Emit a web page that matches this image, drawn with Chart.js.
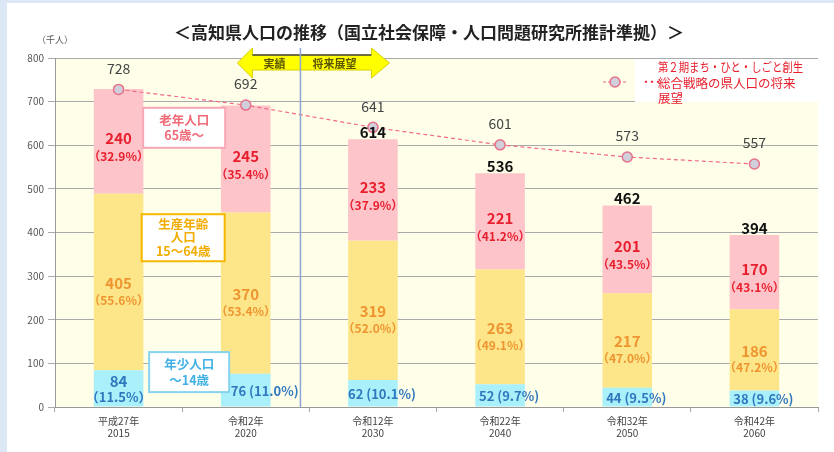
<!DOCTYPE html>
<html>
<head>
<meta charset="utf-8">
<script src="https://cdn.jsdelivr.net/npm/chart.js@4.4.1/dist/chart.umd.min.js"></script>
<style>
  body { margin: 0; background: #dde8f6; }
  canvas { display: block; }
</style>
</head>
<body>
<canvas id="myChart" width="834" height="452"></canvas>
<script>
const FONT = "'Noto Sans CJK JP', 'Noto Sans', sans-serif";

const eras = ["平成27年", "令和2年", "令和12年", "令和22年", "令和32年", "令和42年"];
const years = ["2015", "2020", "2030", "2040", "2050", "2060"];

const young = [84, 76, 62, 52, 44, 38];
const working = [405, 370, 319, 263, 217, 186];
const old = [240, 245, 233, 221, 201, 170];

const youngPct = ["11.5", "11.0", "10.1", "9.7", "9.5", "9.6"];
const workingPct = ["55.6", "53.4", "52.0", "49.1", "47.0", "47.2"];
const oldPct = ["32.9", "35.4", "37.9", "41.2", "43.5", "43.1"];

// 第2期まち・ひと・しごと創生総合戦略の将来展望
const outlook = [728, 692, 641, 601, 573, 557];
const showTotal = [false, false, true, true, true, true];

const labels = eras.map((e, i) => [e, years[i]]);

function txt(ctx, s, x, y, size, color, weight, align) {
  ctx.font = (weight || "normal") + " " + size + "px " + FONT;
  ctx.fillStyle = color;
  ctx.textAlign = align || "center";
  ctx.textBaseline = "middle";
  ctx.fillText(s, x, y);
}

function labelBox(ctx, cx, cy, w, h, border, lines, color) {
  ctx.fillStyle = "#fff";
  ctx.fillRect(cx - w / 2, cy - h / 2, w, h);
  ctx.strokeStyle = border;
  ctx.lineWidth = 2;
  ctx.strokeRect(cx - w / 2, cy - h / 2, w, h);
  const step = h / (lines.length + 0.6);
  lines.forEach((l, i) => {
    txt(ctx, l, cx, cy - h / 2 + step * (i + 0.8), 12.5, color, "bold");
  });
}

const decor = {
  id: "decor",
  beforeDraw(chart) {
    const { ctx, chartArea: a } = chart;
    ctx.save();
    ctx.fillStyle = "#dde8f6";
    ctx.fillRect(0, 0, chart.width, chart.height);
    ctx.fillStyle = "#fff";
    ctx.fillRect(7, 3, chart.width - 7, chart.height - 3);
    ctx.fillStyle = "#fffee9";
    ctx.fillRect(a.left, a.top, a.right - a.left, a.bottom - a.top);
    ctx.restore();
  },
  beforeDatasetsDraw(chart) {
    const { ctx, chartArea: a } = chart;
    // legend box
    ctx.save();
    ctx.fillStyle = "#fff";
    ctx.fillRect(a.right - 183, a.top + 1, 183, 43);
    ctx.restore();
  },
  afterDatasetsDraw(chart) {
    const { ctx, chartArea: a, scales } = chart;
    const xs = scales.x, ys = scales.y;
    ctx.save();

    const mY = chart.getDatasetMeta(1).data;
    const mW = chart.getDatasetMeta(2).data;
    const mO = chart.getDatasetMeta(3).data;
    const mL = chart.getDatasetMeta(0).data;

    for (let i = 0; i < eras.length; i++) {
      // old
      let b = mO[i], mid = (b.y + b.base) / 2;
      txt(ctx, String(old[i]), b.x, mid - 3, 15, "#e8202e", "bold");
      txt(ctx, "（" + oldPct[i] + "%）", b.x, mid + 15, 12, "#e8202e", "bold");
      // working
      b = mW[i]; mid = (b.y + b.base) / 2;
      txt(ctx, String(working[i]), b.x, mid + 1, 15, "#ee9530", "bold");
      txt(ctx, "（" + workingPct[i] + "%）", b.x, mid + 18, 12, "#ee9530", "bold");
      // young
      b = mY[i];
      if (i === 0) {
        txt(ctx, String(young[i]), b.x, b.y + 11, 15, "#2f78be", "bold");
        txt(ctx, "（" + youngPct[i] + "%）", b.x, b.y + 27, 13, "#2f78be", "bold");
      } else {
        txt(ctx, young[i] + " (" + youngPct[i] + "%)", b.x + (i === 1 ? 19 : 9), (b.y + b.base) / 2 + 1, 13, "#2f78be", "bold");
      }
      // total
      if (showTotal[i]) {
        const t = young[i] + working[i] + old[i];
        txt(ctx, String(t), mO[i].x, mO[i].y - 7, 15, "#111", "bold");
      }
      // outlook labels
      txt(ctx, String(outlook[i]), mL[i].x, mL[i].y - 21, 14, "#444");
    }

    // divider between 実績 and 将来展望
    const x1 = xs.getPixelForValue(1), x2 = xs.getPixelForValue(2);
    const dx = x1 + (x2 - x1) * 0.43;

    // double arrow
    const top = a.top - 10, bot = a.top + 20, bTop = a.top - 3, bBot = a.top + 12, cy = a.top + 5;
    ctx.beginPath();
    ctx.moveTo(dx - 63, cy);
    ctx.lineTo(dx - 48, top);
    ctx.lineTo(dx - 48, bTop);
    ctx.lineTo(dx + 71, bTop);
    ctx.lineTo(dx + 71, top);
    ctx.lineTo(dx + 89, cy);
    ctx.lineTo(dx + 71, bot);
    ctx.lineTo(dx + 71, bBot);
    ctx.lineTo(dx - 48, bBot);
    ctx.lineTo(dx - 48, bot);
    ctx.closePath();
    ctx.fillStyle = "#ffff00";
    ctx.fill();
    ctx.strokeStyle = "#d6cf00";
    ctx.lineWidth = 1;
    ctx.stroke();
    ctx.beginPath();
    ctx.moveTo(dx - 48, bTop);
    ctx.lineTo(dx + 71, bTop);
    ctx.strokeStyle = "#444";
    ctx.lineWidth = 1.3;
    ctx.stroke();
    txt(ctx, "実績", dx - 26, cy + 1, 11, "#5a5500", "bold");
    txt(ctx, "将来展望", dx + 34, cy + 1, 11, "#5a5500", "bold");

    ctx.beginPath();
    ctx.moveTo(dx, a.top - 10);
    ctx.lineTo(dx, a.bottom);
    ctx.strokeStyle = "#8ea6d6";
    ctx.lineWidth = 1.5;
    ctx.stroke();

    // annotation boxes
    const bx = (xs.getPixelForValue(0) + xs.getPixelForValue(1)) / 2;
    labelBox(ctx, bx + 2, ys.getPixelForValue(640), 82, 40, "#f7a7b5", ["老年人口", "65歳～"], "#f06a78");
    labelBox(ctx, bx + 1, ys.getPixelForValue(388), 83, 47, "#f5b800", ["生産年齢", "人口", "15～64歳"], "#f2ac00");
    labelBox(ctx, bx + 7, ys.getPixelForValue(80), 80, 40, "#86d3ef", ["年少人口", "～14歳"], "#41b0e4");

    // legend
    const lx = a.right - 200, ly = a.top + 24;
    ctx.beginPath();
    ctx.setLineDash([3, 2]);
    ctx.moveTo(lx - 15, ly);
    ctx.lineTo(lx + 10, ly);
    ctx.strokeStyle = "#f06a8a";
    ctx.lineWidth = 1.2;
    ctx.stroke();
    ctx.setLineDash([]);
    ctx.beginPath();
    ctx.arc(lx - 3, ly, 5, 0, Math.PI * 2);
    ctx.fillStyle = "#cfd0dc";
    ctx.fill();
    ctx.strokeStyle = "#e8708a";
    ctx.lineWidth = 1.5;
    ctx.stroke();
    txt(ctx, "･･･", lx + 25, ly, 12, "#e8202e", "bold", "left");
    ctx.font = "12.5px " + FONT;
    ctx.fillStyle = "#e8202e";
    ctx.textAlign = "left";
    ctx.fillText("第２期まち・ひと・しごと創生", lx + 40, ly - 15, 145);
    ctx.fillText("総合戦略の県人口の将来", lx + 40, ly + 1, 145);
    ctx.fillText("展望", lx + 40, ly + 16, 145);

    ctx.restore();
  },
  afterDraw(chart) {
    const { ctx } = chart;
    ctx.save();
    ctx.font = "bold 17px " + FONT;
    ctx.fillStyle = "#222";
    ctx.textAlign = "center";
    ctx.textBaseline = "middle";
    ctx.fillText("＜高知県人口の推移（国立社会保障・人口問題研究所推計準拠）＞", 429, 33, 534);
    txt(ctx, "（千人）", 55, 40, 9, "#555");
    ctx.restore();
  }
};

const data = {
  labels,
  datasets: [
    {
      type: "line",
      label: "将来展望",
      data: outlook,
      stack: "outlook",
      order: 0,
      borderColor: "#f06a8a",
      borderWidth: 1.2,
      borderDash: [4, 3],
      pointRadius: 5,
      pointBackgroundColor: "#cfd0dc",
      pointBorderColor: "#e8708a",
      pointBorderWidth: 1.5,
      tension: 0,
    },
    { label: "年少人口", data: young, backgroundColor: "#a9f0fa", stack: "pop", order: 1 },
    { label: "生産年齢人口", data: working, backgroundColor: "#fde58a", stack: "pop", order: 1 },
    { label: "老年人口", data: old, backgroundColor: "#fdc4ca", stack: "pop", order: 1 },
  ],
};

const config = {
  type: "bar",
  data: data,
  options: {
    responsive: false,
    animation: false,
    layout: { padding: { left: 0, top: 58, right: 16, bottom: 0 } },
    datasets: { bar: { categoryPercentage: 1, barPercentage: 0.39 } },
    plugins: { legend: { display: false }, tooltip: { enabled: false }, title: { display: false } },
    scales: {
      x: {
        stacked: true,
        afterFit: (scale) => { scale.height = 45; },
        grid: { display: true, drawOnChartArea: false, tickLength: 5, color: "#aaa" },
        border: { color: "#999" },
        ticks: { color: "#444", font: { family: FONT, size: 10 }, maxRotation: 0, padding: 3 },
      },
      y: {
        stacked: true,
        min: 0,
        max: 800,
        afterFit: (scale) => { scale.width = 55; },
        border: { color: "#999" },
        grid: { color: "#a9a9a9", tickLength: 7 },
        ticks: { stepSize: 100, color: "#555", font: { family: FONT, size: 10 }, padding: 4 },
      },
    },
  },
  plugins: [decor],
};

const myChart = new Chart(document.querySelector("#myChart").getContext("2d"), config);
</script>
</body>
</html>
